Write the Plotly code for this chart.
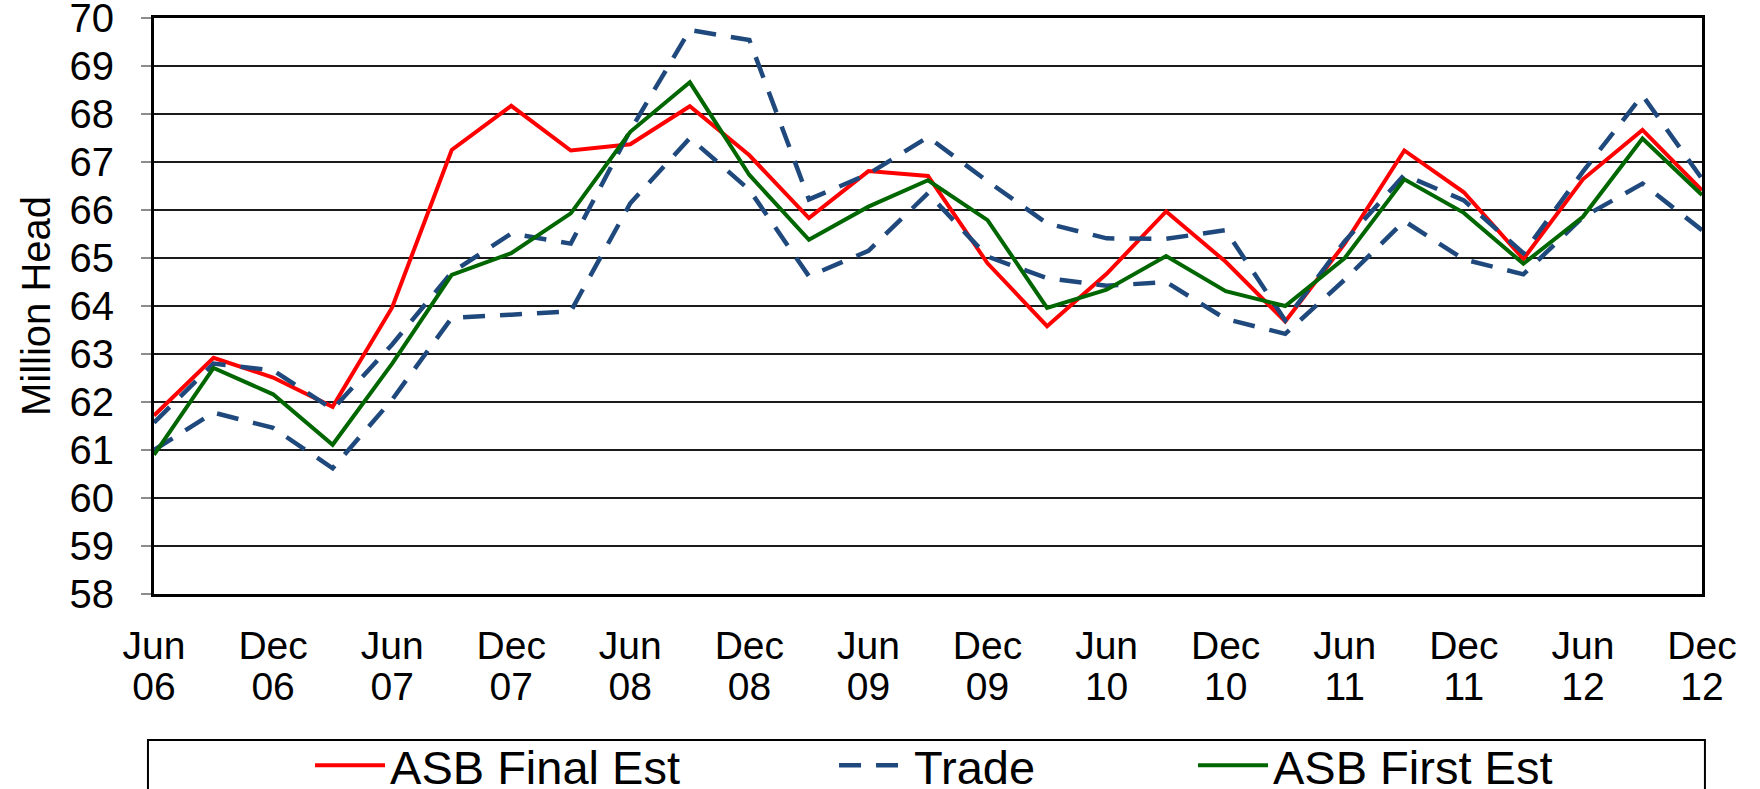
import plotly.graph_objects as go

# ---------------- data ----------------
quarters = ["Jun 06", "Sep 06", "Dec 06", "Mar 07", "Jun 07", "Sep 07", "Dec 07",
            "Mar 08", "Jun 08", "Sep 08", "Dec 08", "Mar 09", "Jun 09", "Sep 09",
            "Dec 09", "Mar 10", "Jun 10", "Sep 10", "Dec 10", "Mar 11", "Jun 11",
            "Sep 11", "Dec 11", "Mar 12", "Jun 12", "Sep 12", "Dec 12"]

asb_final_est = [61.72, 62.92, 62.51, 61.90, 63.97, 67.25, 68.17, 67.24, 67.37, 68.16,
                 67.14, 65.83, 66.81, 66.71, 64.89, 63.58, 64.67, 65.97, 64.92, 63.68,
                 65.30, 67.24, 66.37, 64.98, 66.64, 67.67, 66.41]

asb_first_est = [60.90, 62.71, 62.16, 61.11, 62.80, 64.65, 65.10, 65.93, 67.63, 68.66,
                 66.73, 65.38, 66.07, 66.62, 65.79, 63.96, 64.34, 65.04, 64.31, 64.00,
                 65.00, 66.64, 65.94, 64.88, 65.86, 67.49, 66.31]

trade_high = [61.57, 62.80, 62.66, 61.85, 63.20, 64.70, 65.51, 65.30, 67.66, 69.75,
              69.54, 66.22, 66.75, 67.52, 66.60, 65.72, 65.41, 65.40, 65.58, 63.70,
              65.35, 66.73, 66.20, 65.10, 66.80, 68.39, 66.65]

trade_low = [61.00, 61.78, 61.46, 60.62, 62.05, 63.75, 63.82, 63.89, 66.14, 67.50,
             66.42, 64.62, 65.15, 66.35, 65.03, 64.58, 64.42, 64.50, 63.73, 63.42,
             64.55, 65.77, 64.97, 64.66, 65.85, 66.55, 65.58]

series_names = ["ASB Final Est", "Trade", "ASB First Est"]
y_ticks = list(range(58, 71))

# quarter positions on the x scale and the Jun/Dec labels (month row + year row)
x_pos = list(range(len(quarters)))
tick_pos = x_pos[::2]
tick_months = [quarters[i].split(" ")[0] for i in tick_pos]
tick_years = [quarters[i].split(" ")[1] for i in tick_pos]

# ---------------- style ----------------
FONT = "Liberation Sans, Arial, sans-serif"
RED = "#FF0000"
BLUE = "#1F497D"
GREEN = "#006600"
DASH = "22px,15px"
TICK_SIZE = 39

fig = go.Figure()

fig.add_trace(go.Scatter(x=x_pos, y=asb_final_est, mode="lines", name=series_names[0],
                         customdata=quarters, hovertemplate="%{customdata}: %{y}",
                         line=dict(color=RED, width=4), legend="legend"))
fig.add_trace(go.Scatter(x=x_pos, y=trade_high, mode="lines", name=series_names[1],
                         customdata=quarters, hovertemplate="%{customdata}: %{y}",
                         line=dict(color=BLUE, width=4.5, dash=DASH), legend="legend2"))
fig.add_trace(go.Scatter(x=x_pos, y=trade_low, mode="lines", name=series_names[1],
                         customdata=quarters, hovertemplate="%{customdata}: %{y}",
                         line=dict(color=BLUE, width=4.5, dash=DASH), legend="legend2",
                         showlegend=False))
# the first-estimate line sits on the overlaid x axis that carries the year row
fig.add_trace(go.Scatter(x=x_pos, y=asb_first_est, mode="lines", name=series_names[2],
                         customdata=quarters, hovertemplate="%{customdata}: %{y}",
                         line=dict(color=GREEN, width=4), legend="legend3",
                         xaxis="x2", yaxis="y"))

legend_common = dict(orientation="h", xanchor="left", yanchor="middle",
                     xref="paper", yref="paper", y=-0.298,
                     font=dict(family=FONT, size=47, color="black"),
                     bgcolor="rgba(0,0,0,0)", borderwidth=0, itemwidth=70)

x_range = [x_pos[0], x_pos[-1]]

fig.update_layout(
    width=1760, height=789,
    margin=dict(l=154, r=58, t=18, b=195, autoexpand=False),
    paper_bgcolor="white", plot_bgcolor="white",
    font=dict(family=FONT, color="black"),
    showlegend=True,
    legend=dict(x=0.1008, **legend_common),
    legend2=dict(x=0.4393, **legend_common),
    legend3=dict(x=0.6712, **legend_common),
    xaxis=dict(
        range=x_range,
        tickmode="array", tickvals=tick_pos, ticktext=tick_months,
        tickfont=dict(family=FONT, size=TICK_SIZE, color="black"),
        ticks="", ticklabelstandoff=15, ticklabeloverflow="allow",
        showgrid=False, zeroline=False,
        showline=True, linecolor="black", linewidth=3, mirror=True,
    ),
    xaxis2=dict(
        range=x_range, matches="x", overlaying="x", side="bottom", anchor="y",
        tickmode="array", tickvals=tick_pos, ticktext=tick_years,
        tickfont=dict(family=FONT, size=TICK_SIZE, color="black"),
        ticks="", ticklabelstandoff=66, ticklabeloverflow="allow",
        showgrid=False, zeroline=False, showline=False,
    ),
    yaxis=dict(
        range=[58, 70],
        tickmode="array", tickvals=y_ticks,
        tickfont=dict(family=FONT, size=40, color="black"),
        ticks="outside", ticklen=10, tickwidth=2, tickcolor="#8c8c8c",
        ticklabelstandoff=19, ticklabeloverflow="allow",
        showgrid=True, gridcolor="#1a1a1a", gridwidth=1.5,
        zeroline=False,
        showline=True, linecolor="black", linewidth=3, mirror=True,
        title=dict(text="Million Head", font=dict(family=FONT, size=40, color="black"),
                   standoff=7),
    ),
    shapes=[dict(type="rect", xref="paper", yref="paper",
                 x0=-0.0039, x1=1.0019, y0=-0.45, y1=-0.2535,
                 line=dict(color="black", width=2), fillcolor="rgba(0,0,0,0)",
                 layer="above")],
)

fig.write_html("out.html",
               config={"displayModeBar": False},
               post_script="document.body.style.margin='0';document.body.style.overflow='hidden';")
